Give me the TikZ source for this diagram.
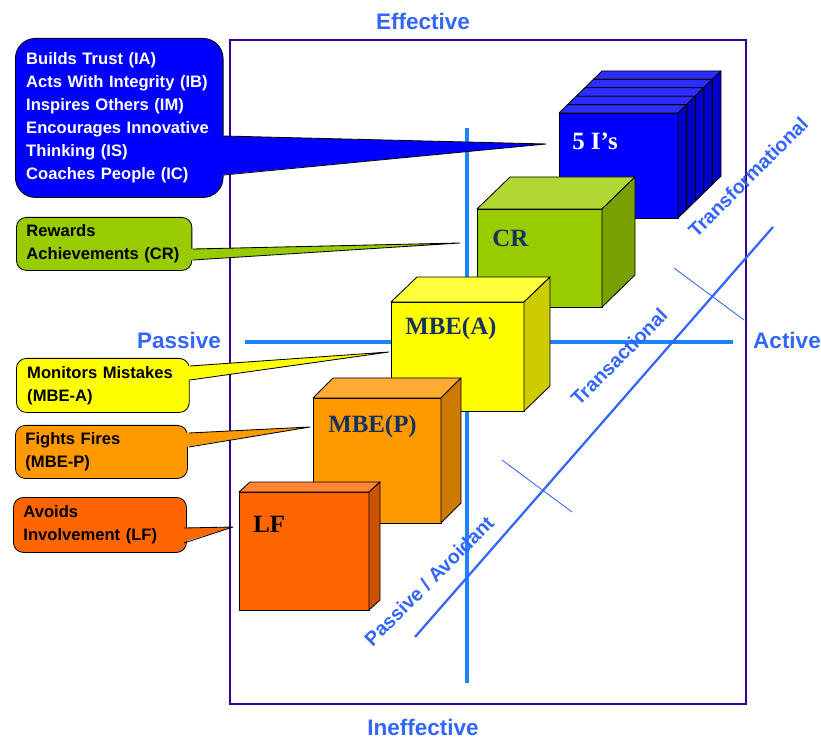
\documentclass[tikz,border=0pt]{standalone}
\usepackage{fontspec}
\setmainfont{Liberation Serif}
\setsansfont{Liberation Sans}
\usepackage{tikz}
\usetikzlibrary{positioning}

\definecolor{framepurple}{HTML}{330099}
\definecolor{axisline}{HTML}{1A85FF}
\definecolor{axistext}{HTML}{3366FF}
\definecolor{cubenavy}{HTML}{16325C}
\definecolor{fivefront}{HTML}{0000FF}
\definecolor{fivetop}{HTML}{2D2DFF}
\definecolor{fiveside}{HTML}{0000C8}
\definecolor{crfront}{HTML}{99CC00}
\definecolor{crtop}{HTML}{B2D836}
\definecolor{crside}{HTML}{77A000}
\definecolor{mbeafront}{HTML}{FFFF00}
\definecolor{mbeatop}{HTML}{FFFF3C}
\definecolor{mbeaside}{HTML}{CCCC00}
\definecolor{mbepfront}{HTML}{FF9900}
\definecolor{mbeptop}{HTML}{FFAA33}
\definecolor{mbepside}{HTML}{CC7A00}
\definecolor{lffront}{HTML}{FF6600}
\definecolor{lftop}{HTML}{FF8533}
\definecolor{lfside}{HTML}{CC5200}

\begin{document}
\begin{tikzpicture}[x=0.025cm, y=-0.025cm,
  face/.style={draw=black, line width=0.6pt, line join=round},
  frontface/.style={face, anchor=north west, inner sep=0pt, outer sep=0pt},
  cubelabel/.style={anchor=base west, inner sep=0pt, text=cubenavy,
    font=\fontsize{17.7}{20}\selectfont\bfseries},
  bubble/.style={draw=black, line width=0.6pt, anchor=north west, align=left,
    rounded corners=0.25cm, inner ysep=0pt, inner xsep=0.27cm,
    font=\sffamily\bfseries\fontsize{11.8}{16.3}\selectfont},
  tailedge/.style={draw=black, line width=0.6pt, line join=round},
  axislabel/.style={text=axistext, font=\sffamily\bfseries\fontsize{16}{19}\selectfont},
  diaglabel/.style={text=axistext, rotate=45, inner sep=1pt, font=\sffamily\bfseries\fontsize{14}{16}\selectfont}]
\useasboundingbox (0,0) rectangle (821,740);

% frame and axes
\draw[framepurple, line width=1.5pt] (230,40) rectangle (746,704);
\draw[axisline, line width=2.8pt] (245,342) -- (733,342);
\draw[axisline, line width=2.8pt] (467,128) -- (467,683);
\draw[axistext, line width=1.6pt] (415,637) -- (773,227);
\draw[axistext, line width=0.6pt] (502,460) -- (572,512);
\draw[axistext, line width=0.6pt] (674,268) -- (744,320);

\node[axislabel] (effective) at (423,21) {Effective};
\node[axislabel] (ineffective) at (423,727) {Ineffective};
\node[axislabel] (passive) at (179,340) {Passive};
\node[axislabel] (active) at (787,340) {Active};

\node[diaglabel] (passav) at (429,581) {Passive / Avoidant};
\node[diaglabel] (transact) at (619,357) {Transactional};
\node[diaglabel] (transform) at (748,177) {Transformational};

% 5 I's (stacked)
\draw[face, fill=fivetop] (593.4,79.4) -- ++(8.6,-8.4) -- ++(119,0) -- (712.4,79.4) -- cycle;
\draw[face, fill=fiveside] (712.4,79.4) -- ++(8.6,-8.4) -- ++(0,105) -- (712.4,184.4) -- cycle;
\draw[face, fill=fivetop] (584.8,87.8) -- ++(8.6,-8.4) -- ++(119,0) -- (703.8,87.8) -- cycle;
\draw[face, fill=fiveside] (703.8,87.8) -- ++(8.6,-8.4) -- ++(0,105) -- (703.8,192.8) -- cycle;
\draw[face, fill=fivetop] (576.2,96.2) -- ++(8.6,-8.4) -- ++(119,0) -- (695.2,96.2) -- cycle;
\draw[face, fill=fiveside] (695.2,96.2) -- ++(8.6,-8.4) -- ++(0,105) -- (695.2,201.2) -- cycle;
\draw[face, fill=fivetop] (567.6,104.6) -- ++(8.6,-8.4) -- ++(119,0) -- (686.6,104.6) -- cycle;
\draw[face, fill=fiveside] (686.6,104.6) -- ++(8.6,-8.4) -- ++(0,105) -- (686.6,209.6) -- cycle;
\node[frontface, fill=fivefront, minimum width=2.975cm, minimum height=2.625cm] (five) at (559,113) {};
\draw[face, fill=fivetop] (five.north west) -- ++(8.6,-8.4) -- ++(119,0) -- (five.north east) -- cycle;
\draw[face, fill=fiveside] (five.north east) -- ++(8.6,-8.4) -- ++(0,105) -- (five.south east) -- cycle;
\node[cubelabel, text=white] (fivelabel) at (572,150) {5 I’s};

% CR
\node[frontface, fill=crfront, minimum width=3.125cm, minimum height=2.45cm] (cr) at (477,209) {};
\draw[face, fill=crtop] (cr.north west) -- ++(33,-32) -- ++(125,0) -- (cr.north east) -- cycle;
\draw[face, fill=crside] (cr.north east) -- ++(33,-32) -- ++(0,98) -- (cr.south east) -- cycle;
\node[cubelabel] (crlabel) at (492,247) {CR};

% MBE(A)
\node[frontface, fill=mbeafront, minimum width=3.325cm, minimum height=2.725cm] (mbea) at (391,302) {};
\draw[face, fill=mbeatop] (mbea.north west) -- ++(26,-25) -- ++(133,0) -- (mbea.north east) -- cycle;
\draw[face, fill=mbeaside] (mbea.north east) -- ++(26,-25) -- ++(0,109) -- (mbea.south east) -- cycle;
\node[cubelabel] (mbealabel) at (405,335) {MBE(A)};

% MBE(P)
\node[frontface, fill=mbepfront, minimum width=3.2cm, minimum height=3.125cm] (mbep) at (313,398) {};
\draw[face, fill=mbeptop] (mbep.north west) -- ++(20,-20) -- ++(128,0) -- (mbep.north east) -- cycle;
\draw[face, fill=mbepside] (mbep.north east) -- ++(20,-20) -- ++(0,125) -- (mbep.south east) -- cycle;
\node[cubelabel] (mbeplabel) at (328,433) {MBE(P)};

% LF
\node[frontface, fill=lffront, minimum width=3.25cm, minimum height=2.95cm] (lf) at (239,492) {};
\draw[face, fill=lftop] (lf.north west) -- ++(11,-10) -- ++(130,0) -- (lf.north east) -- cycle;
\draw[face, fill=lfside] (lf.north east) -- ++(11,-10) -- ++(0,118) -- (lf.south east) -- cycle;
\node[cubelabel, text=black] (lflabel) at (253,532) {LF};

% callouts
\node[bubble, fill=fivefront, text=white, rounded corners=0.5cm, text width=4.65cm,
  minimum height=3.975cm] (fivebub) at (15,38)
  {Builds Trust (IA)\\Acts With Integrity (IB)\\Inspires Others (IM)\\Encourages Innovative\\Thinking (IS)\\Coaches People (IC)};
\coordinate (fivetip) at (546,144);
\fill[fivefront] (220,136) -- (fivetip) -- (220,175) -- cycle;
\draw[tailedge] (224,136) -- (fivetip) -- (224,175);

\node[bubble, fill=crfront, text width=3.885cm, minimum height=1.325cm, inner xsep=0.25cm] (crbub) at (16,217)
  {Rewards\\Achievements (CR)};
\coordinate (crtip) at (460,243);
\fill[crfront] (189,249) -- (crtip) -- (189,260) -- cycle;
\draw[tailedge] (193,249) -- (crtip) -- (193,260);

\node[bubble, fill=mbeafront, text width=3.78cm, minimum height=1.35cm] (mbeabub) at (16,358)
  {Monitors Mistakes\\(MBE-A)};
\coordinate (mbeatip) at (389,352);
\fill[mbeafront] (186,366) -- (mbeatip) -- (186,380) -- cycle;
\draw[tailedge] (190,366) -- (mbeatip) -- (190,380);

\node[bubble, fill=mbepfront, text width=3.8cm, minimum height=1.325cm, inner xsep=0.25cm] (mbepbub) at (15,425)
  {Fights Fires\\(MBE-P)};
\coordinate (mbeptip) at (310,427);
\fill[mbepfront] (185,433) -- (mbeptip) -- (185,447) -- cycle;
\draw[tailedge] (189,433) -- (mbeptip) -- (189,447);

\node[bubble, fill=lffront, text width=3.825cm, minimum height=1.375cm, inner xsep=0.25cm] (lfbub) at (13,497)
  {Avoids\\Involvement (LF)};
\coordinate (lftip) at (233,527);
\fill[lffront] (180,528) -- (lftip) -- (180,543) -- cycle;
\draw[tailedge] (184,528) -- (lftip) -- (184,543);

\end{tikzpicture}
\end{document}
